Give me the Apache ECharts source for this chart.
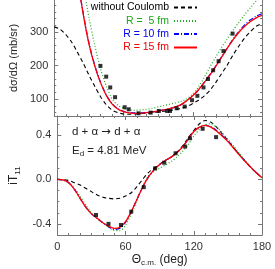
<!DOCTYPE html>
<html><head><meta charset="utf-8">
<script src="https://cdn.jsdelivr.net/npm/echarts@6/dist/echarts.min.js"></script>
<style>html,body{margin:0;padding:0;background:#fff}#c{width:275px;height:269px}</style>
</head><body><div id="c"></div>
<script>
// ---- data ----
const theta = [0,5,10,15,20,25,30,35,40,45,50,55,60,65,70,75,80,85,90,95,100,105,110,115,120,125,130,135,140,145,150,155,160,165,170,175,180];

// top panel: dσ/dΩ (mb/sr)
const xsNoCoul = [315,308,292,270,240,208,172,139,108,84,68,60,56,55,56,57,58,60,62,64,66,69,73,78,87,97,110,127,150,176,202,232,258,282,301,317,325];
const xsR5  = [null,null,null,null,700,450,345,262,192,140,102,82,73,68,67,68,70,73,77,81,85,89,94,101,115,137,165,196,226,254,280,305,329,352,372,392,410];
const xsR10 = [null,null,null,750,472,358,268,202,151,113,87,72,64,60,59,59,60,62,65,68,72,77,84,96,110,128,150,174,199,226,253,279,302,321,336,347,354];
const xsR15 = [null,null,null,750,470,355,265,200,150,112,86,71,63,59,58,58,60,62,65,68,72,77,84,96,110,128,150,172,198,225,252,277,299,317,331,342,349];
const xsExpTheta = [40,45,48.5,52.7,61,64.5,73,83.5,90.6,97.8,100.3,106,113,119.4,124,129.3,133.2,137.7,142.4,146.6,154.5];
const xsExpVal   = [199,167,135,106,76,70,58,60,65,65,65,73,78,97,110,135,160,186,213,243,295];

// bottom panel: iT11
const itNoCoul = [0,-0.003,-0.01,-0.03,-0.05,-0.08,-0.11,-0.14,-0.16,-0.17,-0.175,-0.17,-0.15,-0.12,-0.065,0.0,0.06,0.1,0.135,0.17,0.2,0.24,0.3,0.37,0.44,0.5,0.53,0.515,0.47,0.41,0.35,0.285,0.225,0.165,0.11,0.06,0.015];
const itR5  = [0,-0.005,-0.03,-0.08,-0.15,-0.23,-0.3,-0.35,-0.39,-0.43,-0.46,-0.46,-0.41,-0.31,-0.19,-0.06,0.03,0.07,0.1,0.13,0.16,0.2,0.25,0.31,0.39,0.45,0.49,0.5,0.47,0.42,0.36,0.3,0.235,0.17,0.11,0.06,0.015];
const itR10 = [0,-0.005,-0.03,-0.09,-0.17,-0.25,-0.31,-0.35,-0.39,-0.425,-0.45,-0.44,-0.385,-0.29,-0.18,-0.07,0.02,0.085,0.135,0.17,0.2,0.24,0.29,0.36,0.43,0.47,0.485,0.475,0.44,0.395,0.345,0.285,0.225,0.165,0.11,0.06,0.015];
const itR15 = [0,-0.005,-0.03,-0.09,-0.17,-0.25,-0.31,-0.35,-0.39,-0.42,-0.44,-0.43,-0.38,-0.29,-0.18,-0.07,0.02,0.085,0.135,0.17,0.2,0.24,0.29,0.36,0.43,0.47,0.485,0.47,0.435,0.39,0.34,0.28,0.22,0.165,0.11,0.06,0.015];
const itExpTheta = [34,45,56,65,76,86,94,104,112.4,116.6,127.8,139.6];
const itExpVal   = [-0.32,-0.40,-0.41,-0.29,-0.07,0.10,0.15,0.235,0.295,0.37,0.455,0.38];

const xTickLabels = [0,60,120,180];
const yTopLabels = [100,200,300];
const yBotLabels = [-0.4,0.0,0.4];

const names = ['without Coulomb','R =  5 fm','R = 10 fm','R = 15 fm'];
const colors = ['#000000','#1faa1f','#0000ff','#ff0000'];
const legendTextColors = ['#000000','#18a818','#0000ee','#ee0000'];

// ---- helpers ----
const zip = (xs, ys) => xs.map((x,i)=>[x, ys[i]]).filter(p=>p[1]!==null);
const FONT = 'Liberation Sans, Arial, sans-serif';
const axisCol = '#777';
const minorTop = []; for (let v=60; v<=380; v+=20) if (v%100!==0) minorTop.push(v);
const minorBot = [-0.3,-0.2,-0.1,0.1,0.2,0.3,0.5];

function yAx(grid, min, max, pos, major, minor, showLabel, extra) {
  const a = [{
    gridIndex: grid, type:'value', min, max, position: pos,
    axisLine:{show:true, lineStyle:{color:axisCol, width:1}},
    axisTick:{show:true, inside:true, length:4, customValues: major, lineStyle:{color:axisCol}},
    axisLabel:{show: showLabel, customValues: major, fontFamily:FONT, fontSize:11, color:'#333', margin:6,
      formatter: v => (Math.abs(v) < 1 ? v.toFixed(1) : String(v))},
    splitLine:{show:false}
  },{
    gridIndex: grid, type:'value', min, max, position: pos,
    axisLine:{show:false},
    axisTick:{show:true, inside:true, length:2, customValues: minor, lineStyle:{color:axisCol}},
    axisLabel:{show:false}, splitLine:{show:false}
  }];
  Object.assign(a[0], extra || {});
  return a;
}

const yAxes = [].concat(
  yAx(0, 50, 395, 'left', yTopLabels, minorTop, true, {
    name:'dσ/dΩ (mb/sr)', nameLocation:'middle', nameRotate:90, nameGap:30,
    nameTextStyle:{fontFamily:FONT, fontSize:11, color:'#222'}
  }),
  yAx(0, 50, 395, 'right', yTopLabels, minorTop, false),
  yAx(1, -0.5, 0.57, 'left', yBotLabels, minorBot, true, {
    name:'{a|iT}{b|11}', nameLocation:'middle', nameRotate:90, nameGap:30,
    nameTextStyle:{rich:{a:{fontFamily:FONT, fontSize:12, color:'#222', lineHeight:15},
                         b:{fontFamily:FONT, fontSize:8, color:'#222', verticalAlign:'bottom', lineHeight:8}}}
  }),
  yAx(1, -0.5, 0.57, 'right', yBotLabels, minorBot, false)
);
// indices: 0 top-left main, 4 bottom-left main

function xAx(grid, pos, showLabel, extra) {
  return Object.assign({
    gridIndex: grid, type:'value', min:0, max:180, interval:60, position: pos,
    axisLine:{show:true, onZero:false, lineStyle:{color:axisCol}},
    axisTick:{show:true, inside:true, length:4, lineStyle:{color:axisCol}},
    minorTick:{show:true, splitNumber:6, length:2, lineStyle:{color:axisCol}},
    axisLabel:{show: showLabel, fontFamily:FONT, fontSize:11, color:'#333', margin:6,
      customValues: xTickLabels},
    splitLine:{show:false}
  }, extra || {});
}
const xAxes = [
  xAx(0, 'bottom', false),
  xAx(1, 'bottom', true, {
    name:'{a|Θ}{b|c.m.}{a| (deg)}', nameLocation:'middle', nameGap:17,
    nameTextStyle:{rich:{a:{fontFamily:FONT, fontSize:12, color:'#222', lineHeight:15},
                         b:{fontFamily:FONT, fontSize:8, color:'#222', verticalAlign:'bottom', lineHeight:8}}}
  }),
  xAx(1, 'top', false)
];

const lineTypes = [[4,3],[1,2],[5,2,1,2],'solid'];
const lineWidths = [1.1,1.2,1.2,1.3];
const topData = [xsNoCoul, xsR5, xsR10, xsR15];
const botData = [itNoCoul, itR5, itR10, itR15];

const series = [];
names.forEach((n,i)=>{
  series.push({name:n, type:'line', xAxisIndex:0, yAxisIndex:0, data: zip(theta, topData[i]),
    smooth:0.3, showSymbol:false, symbol:'none', clip:true, z:2+i,
    lineStyle:{color:colors[i], width:lineWidths[i], type:lineTypes[i]}, itemStyle:{color:colors[i]}});
  series.push({name:n, type:'line', xAxisIndex:1, yAxisIndex:4, data: zip(theta, botData[i]),
    smooth:0.3, showSymbol:false, symbol:'none', clip:true, z:2+i,
    lineStyle:{color:colors[i], width:lineWidths[i], type:lineTypes[i]}, itemStyle:{color:colors[i]}});
});
series.push({type:'scatter', xAxisIndex:0, yAxisIndex:0, data: zip(xsExpTheta, xsExpVal),
  symbol:'rect', symbolSize:4, itemStyle:{color:'#000'}, z:10});
series.push({type:'scatter', xAxisIndex:1, yAxisIndex:4, data: zip(itExpTheta, itExpVal),
  symbol:'rect', symbolSize:4, itemStyle:{color:'#000'}, z:10});

const legendTops = [2, 15.5, 28.5, 42];
const legends = names.map((n,i)=>({
  data:[{name:n, textStyle:{color:legendTextColors[i]}}],
  right:77, top:legendTops[i], padding:0, align:'right', orient:'vertical',
  itemWidth:23, itemHeight:10, itemGap:0, selectedMode:false,
  itemStyle:{opacity:0, borderWidth:0},
  textStyle:{fontFamily:FONT, fontSize:10.5, padding:[0,0,0,0]}
}));

const chart = echarts.init(document.getElementById('c'), null, {renderer:'canvas'});
chart.setOption({
  animation:false,
  backgroundColor:'#fff',
  grid:[{left:48, right:13, top:0, height:116},
        {left:48, right:13, top:116, height:119}],
  xAxis: xAxes,
  yAxis: yAxes,
  legend: legends,
  title:[
    {text:'{a|d + α }{r|→}{a| d + α}', left:72, top:126, padding:0,
     textStyle:{rich:{a:{fontFamily:FONT, fontSize:11.5, fontWeight:'normal', color:'#222'},
                      r:{fontFamily:'DejaVu Sans', fontSize:11.5, fontWeight:'normal', color:'#222'}}}},
    {text:'{a|E}{b|d}{a| = 4.81 MeV}', left:72, top:144, padding:0,
     textStyle:{rich:{a:{fontFamily:FONT, fontSize:11.5, fontWeight:'normal', color:'#222', lineHeight:14},
                      b:{fontFamily:FONT, fontSize:8, fontWeight:'normal', color:'#222', verticalAlign:'bottom', lineHeight:8}}}}
  ],
  series
});
</script></body></html>
